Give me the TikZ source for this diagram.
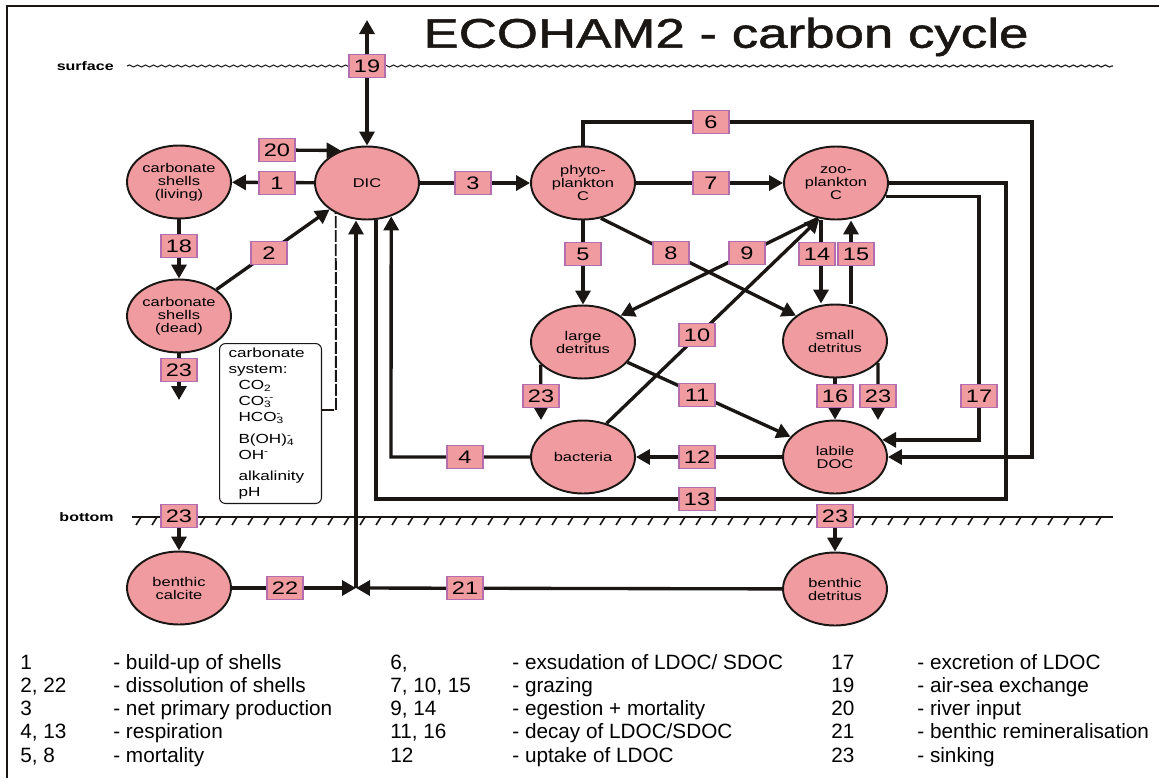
\documentclass[tikz,border=0pt]{standalone}
\usepackage{fontspec}
\setmainfont{Liberation Sans}
\newfontfamily\diagfont[FakeStretch=1.3]{Liberation Sans}
\newfontfamily\titlefont[FakeStretch=1.28, FakeBold=1.3]{Liberation Sans}
\usepackage{xcolor}
\usetikzlibrary{arrows.meta, shapes.geometric, backgrounds, decorations.pathmorphing}

\definecolor{poolpink}{RGB}{239,155,160}
\definecolor{tagrim}{RGB}{180,110,175}
\definecolor{ink}{RGB}{26,22,20}

\newcommand{\ionsub}[2]{\rlap{\textsubscript{#1}}\textsuperscript{#2}}

\tikzset{
  pool/.style={ellipse, draw=ink, line width=1.1pt, fill=poolpink, minimum width=2.08cm,
    minimum height=1.46cm, inner sep=0pt, align=center, font=\diagfont\fontsize{7.2}{7.4}\selectfont},
  tag/.style={rectangle, draw=tagrim, line width=1.1pt, fill=poolpink, minimum width=0.72cm,
    minimum height=0.46cm, inner sep=0pt, font=\diagfont\fontsize{10.3}{11}\selectfont},
  link/.style={draw=ink, line width=1.9pt},
  flux/.style={link, ->},
  dashline/.style={draw=ink, line width=1.1pt, dash pattern=on 0.24cm off 0.04cm},
  layer/.style={font=\diagfont\bfseries\fontsize{7}{8}\selectfont, anchor=east, inner sep=0pt},
  legtxt/.style={anchor=base west, inner sep=0pt, font=\fontsize{11.8}{13}\selectfont}
}

\begin{document}
\begin{tikzpicture}[x=0.02cm, y=-0.02cm, >={Triangle[length=0.28cm,width=0.3cm]}]
  \useasboundingbox (0,0) rectangle (1159,778);

  % frame and title
  \draw[ink, line width=1.7pt] (7,778) -- (7,6) -- (1159,6);
  \node[font=\titlefont\fontsize{23.5}{26}\selectfont, text=ink] (title) at (726,37) {ECOHAM2 - carbon cycle};

  % surface and bottom
  \node[layer] (srf) at (114,66) {surface};
  \draw[ink, line width=0.6pt, decorate, decoration={snake, amplitude=0.02cm, segment length=0.16cm}]
    (127,66) -- (1113,66);
  \node[layer] (btm) at (114,517) {bottom};
  \draw[ink, line width=1pt] (132,517) -- (1113,517);
  \foreach \x in {136,152,...,1096}
    \draw[ink, line width=0.9pt] (\x,525) -- ++(5,-8);

  % pools
  \node[pool] (dic) at (367,183) {DIC};
  \node[pool] (shl) at (179,182) {carbonate\\shells\\(living)};
  \node[pool] (shd) at (179,316) {carbonate\\shells\\(dead)};
  \node[pool] (phy) at (583,183) {phyto-\\plankton\\C};
  \node[pool] (zoo) at (836,183) {zoo-\\plankton\\C};
  \node[pool] (lde) at (583,342) {large\\detritus};
  \node[pool] (sde) at (835,341) {small\\detritus};
  \node[pool] (bac) at (583,457) {bacteria};
  \node[pool] (doc) at (835,457) {labile\\DOC};
  \node[pool] (bca) at (179,588) {benthic\\calcite};
  \node[pool] (bde) at (835,589) {benthic\\detritus};

  % carbonate system
  \node[draw=ink, line width=0.6pt, rounded corners=0.12cm, anchor=north west, text width=1.68cm,
    inner xsep=0.18cm, inner ysep=0pt, minimum height=3.2cm, align=left,
    font=\diagfont\fontsize{7.5}{9.1}\selectfont] (csys) at (219,343)
    {carbonate\\system:\\
     \hspace*{0.2cm}CO\textsubscript{2}\\
     \hspace*{0.2cm}CO\ionsub{3}{-\kern0.6pt-}\\
     \hspace*{0.2cm}HCO\ionsub{3}{-}\\[3.4pt]
     \hspace*{0.2cm}B(OH)\ionsub{4}{-}\\
     \hspace*{0.2cm}OH\textsuperscript{-}\\[2.9pt]
     \hspace*{0.2cm}alkalinity\\
     \hspace*{0.2cm}pH};

  % flux tags
  \node[tag] (t19) at (367,66) {19};
  \node[tag] (t20) at (277,150) {20};
  \node[tag] (t1) at (277,183) {1};
  \node[tag] (t18) at (179,246) {18};
  \node[tag] (t2) at (269,253) {2};
  \node[tag] (t23a) at (179,370) {23};
  \node[tag] (t3) at (473,183) {3};
  \node[tag] (t6) at (711,122) {6};
  \node[tag] (t7) at (711,183) {7};
  \node[tag] (t5) at (583,254) {5};
  \node[tag] (t8) at (671,253) {8};
  \node[tag] (t9) at (747,253) {9};
  \node[tag] (t14) at (817,254) {14};
  \node[tag] (t15) at (856,254) {15};
  \node[tag] (t10) at (697,335) {10};
  \node[tag] (t23b) at (541,396) {23};
  \node[tag] (t11) at (697,395) {11};
  \node[tag] (t16) at (835,396) {16};
  \node[tag] (t23c) at (878,396) {23};
  \node[tag] (t17) at (979,396) {17};
  \node[tag] (t4) at (465,457) {4};
  \node[tag] (t12) at (697,457) {12};
  \node[tag] (t13) at (697,499) {13};
  \node[tag] (t23d) at (179,516) {23};
  \node[tag] (t23e) at (835,516) {23};
  \node[tag] (t22) at (285,588) {22};
  \node[tag] (t21) at (465,588) {21};

  % corners and free ends
  \coordinate (air) at (367,20);
  \coordinate (d23) at (179,400);
  \coordinate (l23) at (541,420);
  \coordinate (s23) at (878,420);
  \coordinate (c6) at (1032,122);
  \coordinate (c17) at (979,300);
  \coordinate (c13a) at (1006,499);
  \coordinate (c13b) at (376,499);
  \coordinate (c4) at (391,457);
  \coordinate (x14) at (821,260);
  \coordinate (x15) at (851,260);
  \coordinate (jn) at (356,588);
  \coordinate (cd) at (336,410);

  % fluxes
  \begin{scope}[on background layer]
    \draw[link, <->] (dic) -- (air);
    \draw[flux] (t20) -- (dic.129);
    \draw[flux] (dic) -- (shl);
    \draw[flux] (shl) -- (shd);
    \draw[flux] (shd) -- (dic);
    \draw[flux] (shd) -- (d23);
    \draw[dashline] (csys.east |- cd) -- (cd) -- (dic.224);
    \draw[flux] (dic) -- (phy);
    \draw[flux] (phy) -- (zoo);
    \draw[flux] (phy.north) |- (c6) |- (doc.east);
    \draw[flux] (phy) -- (lde);
    \draw[flux] (phy.-63) -- (sde.147);
    \draw[flux] (zoo.243) -- (lde.35);
    \draw[flux] (bac.55) -- (zoo.245);
    \draw[flux] (x14 |- zoo.south) -- (x14 |- sde.north);
    \draw[flux] (x15 |- sde.north) -- (x15 |- zoo.south);
    \draw[flux] (lde) -- (doc);
    \draw[flux] (lde.208) -- (l23);
    \draw[flux] (sde) -- (doc);
    \draw[flux] (sde.-27) -- (s23);
    \draw[flux] (zoo.-15) -| (c17) |- (doc.20);
    \draw[link] (zoo.east) -| (c13a) -- (c13b) -- (c13b |- dic.south);
    \draw[flux] (doc) -- (bac);
    \draw[flux] (bac) -- (c4) -- (dic.-54);
    \draw[flux] (t23d) -- (bca);
    \draw[flux] (t23e) -- (bde);
    \draw[flux] (bca) -- (jn);
    \draw[flux] (bde) -- (jn);
    \draw[flux] (jn) -- (jn |- dic.south);
  \end{scope}

  % legend
  \foreach \n/\d [count=\i] in {1/build-up of shells, {2, 22}/dissolution of shells,
      3/net primary production, {4, 13}/respiration, {5, 8}/mortality} {
    \node[legtxt] (ka\i) at (20,645.75+23.25*\i) {\n};
    \node[legtxt] (kb\i) at (113,645.75+23.25*\i) {- \d};
  }
  \foreach \n/\d [count=\i] in {{6,}/{exsudation of LDOC/ SDOC}, {7, 10, 15}/grazing,
      {9, 14}/egestion + mortality, {11, 16}/{decay of LDOC/SDOC}, 12/uptake of LDOC} {
    \node[legtxt] (kc\i) at (390,645.75+23.25*\i) {\n};
    \node[legtxt] (kd\i) at (512,645.75+23.25*\i) {- \d};
  }
  \foreach \n/\d [count=\i] in {17/excretion of LDOC, 19/air-sea exchange, 20/river input,
      21/benthic remineralisation, 23/sinking} {
    \node[legtxt] (ke\i) at (831,645.75+23.25*\i) {\n};
    \node[legtxt] (kf\i) at (917,645.75+23.25*\i) {- \d};
  }
\end{tikzpicture}
\end{document}
